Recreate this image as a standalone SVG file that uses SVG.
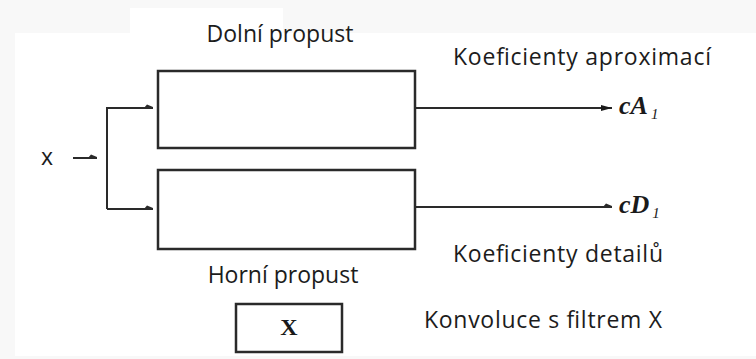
<svg xmlns="http://www.w3.org/2000/svg" width="756" height="359" viewBox="0 0 756 359">
  <style>
    .lbl { font-family: "Open Sans", "Noto Sans", "Liberation Sans", sans-serif; font-size: 23px; fill: #1c1c1c; }
    .math { font-family: "Liberation Serif", "DejaVu Serif", serif; font-style: italic; font-weight: bold; font-size: 26px; fill: #1a1a1a; }
    .sub { font-size: 15px; font-weight: normal; }
    .box { fill: #ffffff; stroke: #2a2a2a; stroke-width: 2.5; }
    .wire { fill: none; stroke: #2a2a2a; stroke-width: 2; }
  </style>
  <defs>
    <marker id="half" markerWidth="10" markerHeight="8" refX="9" refY="5" orient="auto" markerUnits="userSpaceOnUse">
      <path d="M0,5 L3,1.5 L9,4 L9,6 L0,6 Z" fill="#2a2a2a"/>
    </marker>
    <marker id="tip" markerWidth="12" markerHeight="10" refX="11" refY="5" orient="auto" markerUnits="userSpaceOnUse">
      <path d="M0,2 L11,5 L0,8 Z" fill="#1a1a1a"/>
    </marker>
  </defs>

  <!-- page background -->
  <rect x="0" y="0" width="756" height="359" fill="#f8f8f8"/>
  <rect x="15" y="33" width="741" height="323" fill="#ffffff"/>
  <rect x="130" y="8" width="153" height="26" fill="#ffffff"/>

  <!-- connectors -->
  <g id="connectors">
    <line class="wire" x1="73" y1="158" x2="97" y2="158" marker-end="url(#half)"/>
    <line class="wire" x1="107" y1="107" x2="107" y2="209"/>
    <line class="wire" x1="107" y1="108" x2="153" y2="108" marker-end="url(#half)"/>
    <line class="wire" x1="107" y1="209" x2="153" y2="209" marker-end="url(#half)"/>
    <line class="wire" x1="415" y1="108" x2="612" y2="108" marker-end="url(#tip)"/>
    <line class="wire" x1="415" y1="207" x2="612" y2="207" marker-end="url(#half)"/>
  </g>

  <!-- input -->
  <g id="input">
    <text class="lbl" x="47" y="165" text-anchor="middle" font-size="21">x</text>
  </g>

  <!-- low-pass filter -->
  <g id="lowpass">
    <rect class="box" x="158" y="71" width="257" height="77"/>
    <text class="lbl" x="280" y="42" text-anchor="middle">Dolní propust</text>
  </g>

  <!-- high-pass filter -->
  <g id="highpass">
    <rect class="box" x="158" y="170" width="257" height="79"/>
    <text class="lbl" x="283" y="283" text-anchor="middle">Horní propust</text>
  </g>

  <!-- approximation output -->
  <g id="approx">
    <text class="math" x="619" y="114">cA<tspan class="sub" dx="3" dy="5">1</tspan></text>
    <text class="lbl" x="453" y="65" textLength="258">Koeficienty aproximací</text>
  </g>

  <!-- detail output -->
  <g id="detail">
    <text class="math" x="619" y="213">cD<tspan class="sub" dx="3" dy="5">1</tspan></text>
    <text class="lbl" x="453" y="262" textLength="210">Koeficienty detailů</text>
  </g>

  <!-- legend: convolution block -->
  <g id="legend">
    <rect class="box" x="236" y="304" width="106" height="48"/>
    <text x="289" y="335" text-anchor="middle" font-family="Liberation Serif, serif" font-weight="bold" font-size="24" fill="#1a1a1a">X</text>
    <text class="lbl" x="424" y="328" textLength="238">Konvoluce s filtrem X</text>
  </g>
</svg>
